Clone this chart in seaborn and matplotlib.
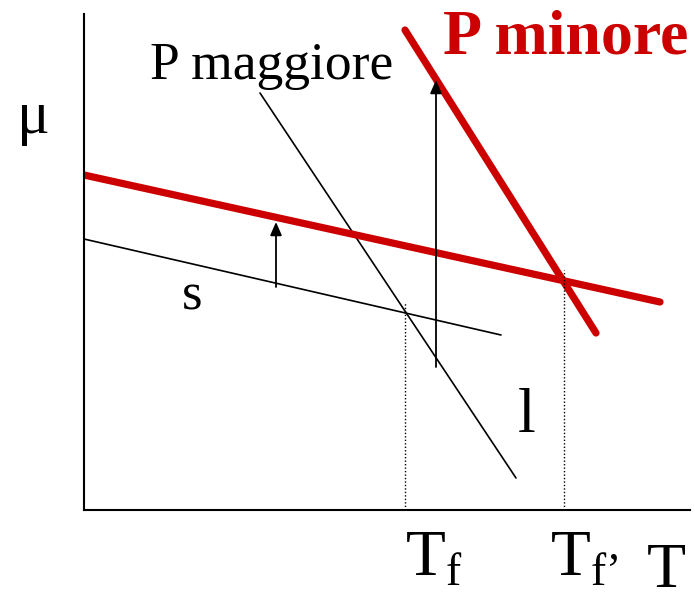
import matplotlib
matplotlib.use('Agg')
import matplotlib.pyplot as plt
import seaborn as sns

sns.set_style('white')
plt.rcParams['font.family'] = ['Liberation Serif', 'DejaVu Serif']
plt.rcParams['mathtext.fontset'] = 'custom'
plt.rcParams['mathtext.rm'] = 'Liberation Serif'
plt.rcParams['text.color'] = 'black'

RED = '#CC0000'

# schematic lines (x = temperature, y = chemical potential, arbitrary units)
solid_x = [0, 417]
solid_y = [271, 175]
liquid_x = [176, 432]
liquid_y = [417, 32]
solid_low_p_x = [0, 576]
solid_low_p_y = [335, 208]
liquid_low_p_x = [321, 512]
liquid_low_p_y = [480, 177]

# shift arrows (x, y start, y end)
arrow_x = [192, 352]
arrow_y0 = [223, 143]
arrow_y1 = [288, 430]

# melting temperatures and the mu at the crossings
tf_x = [321, 480]
tf_y = [208, 240]
tf_labels = [r'T$_{\mathrm{f}}$', r'T$_{\mathrm{f’}}$']
tf_label_x = [321, 466]

fig = plt.figure(figsize=(6.95, 5.93), dpi=100)
ax = fig.add_axes([84 / 695, 83 / 593, 606 / 695, 496 / 593])

sns.lineplot(x=solid_x, y=solid_y, ax=ax, color='black', linewidth=1.2)
sns.lineplot(x=liquid_x, y=liquid_y, ax=ax, color='black', linewidth=1.2)
sns.lineplot(x=solid_low_p_x, y=solid_low_p_y, ax=ax, color=RED, linewidth=5.2)
sns.lineplot(x=liquid_low_p_x, y=liquid_low_p_y, ax=ax, color=RED, linewidth=5.2)

for x, y0, y1 in zip(arrow_x, arrow_y0, arrow_y1):
    ax.annotate('', xy=(x, y1), xytext=(x, y0),
                arrowprops=dict(arrowstyle='-|>,head_length=0.8,head_width=0.35',
                                color='black', lw=1.3, shrinkA=0, shrinkB=0))

for x, y in zip(tf_x, tf_y):
    ax.plot([x, x], [0, y], color='black', linestyle=(0, (1, 1.5)), linewidth=1.0)

ax.set_xlim(0, 606)
ax.set_ylim(0, 496)
ax.set_xticks([])
ax.set_yticks([])
for side in ['top', 'right']:
    ax.spines[side].set_visible(False)
for side in ['left', 'bottom']:
    ax.spines[side].set_color('black')
    ax.spines[side].set_linewidth(1.5)

kw = dict(ha='left', va='baseline', clip_on=False, color='black')
ax.text(-67, 377, 'μ', fontsize=44, **kw)
ax.text(66, 431, 'P maggiore', fontsize=38.5, **kw)
ax.text(359, 457, 'P minore', fontsize=46, fontweight='bold',
        **{**kw, 'color': RED})
ax.text(98, 200, 's', fontsize=38, **kw)
ax.text(434, 78, 'l', fontsize=46, **kw)
for x, lab in zip(tf_label_x, tf_labels):
    ax.text(x, -65, lab, fontsize=47, **kw)
ax.text(563, -77, 'T', fontsize=46, **kw)

fig.savefig('out.png', dpi=100)
